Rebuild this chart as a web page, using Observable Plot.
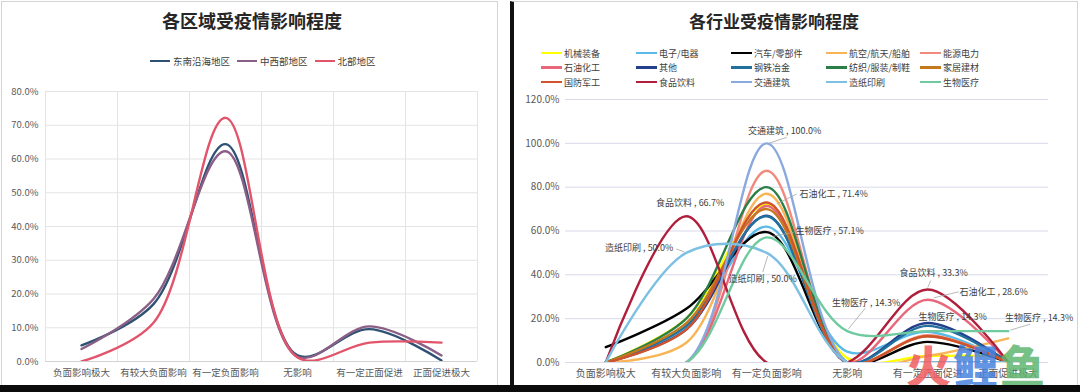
<!DOCTYPE html>
<html>
<head>
<meta charset="utf-8">
<script src="https://cdn.jsdelivr.net/npm/d3@7"></script>
<script src="https://cdn.jsdelivr.net/npm/@observablehq/plot@0.6"></script>
<style>
html,body{margin:0;padding:0;background:#fff;}
#root{position:relative;width:1080px;height:392px;overflow:hidden;background:#fff;font-family:"Noto Sans CJK SC","Noto Sans",sans-serif;}
.abs{position:absolute;}
#leftBox{left:1px;top:1px;width:497px;height:385px;border:1px solid #d4d4d4;box-sizing:border-box;}
#rightBox{left:510px;top:1px;width:568px;height:385px;border:1px solid #d4d4d4;border-left:4px solid #111;box-sizing:border-box;}
.title{font-weight:bold;color:#262626;text-align:center;white-space:nowrap;}
.leg{display:flex;align-items:center;white-space:nowrap;color:#404040;}
.sw{display:inline-block;height:2.6px;}
#band{left:0;top:385px;width:1080px;height:7px;background:#0b0b0b;}
#wm{left:906px;top:342px;font-size:45px;font-weight:900;letter-spacing:2px;line-height:1;}
</style>
</head>
<body>
<div id="root">
  <div id="leftBox" class="abs"></div>
  <div id="rightBox" class="abs"></div>
  <div class="abs title" style="left:0;width:504px;top:7px;font-size:18px;">各区域受疫情影响程度</div>
  <div class="abs title" style="left:514px;width:520px;top:8px;font-size:17px;">各行业受疫情影响程度</div>
  <div id="leftLegend" class="abs" style="left:150px;top:54px;"></div>
  <div id="rightLegend" class="abs" style="left:0;top:0;"></div>
  <div id="leftChart" class="abs" style="left:0;top:80px;"></div>
  <div id="rightChart" class="abs" style="left:514px;top:90px;"></div>
  <div id="wm" class="abs"><span style="color:rgba(240,92,96,0.85)">火</span><span style="color:rgba(72,130,222,0.85)">鲤</span><span style="color:rgba(96,182,112,0.85)">鱼</span></div>
  <div id="band" class="abs"></div>
</div>
<script>
// ---------- data ----------
const categories = ["负面影响极大","有较大负面影响","有一定负面影响","无影响","有一定正面促进","正面促进极大"];

const regionNames  = ["东南沿海地区","中西部地区","北部地区"];
const regionColors = ["#2f5274","#8a5f86","#e2546b"];
const southeast = [4.8, 17.0, 64.4, 1.8, 9.6, 0.3];
const central   = [3.7, 18.5, 62.3, 1.4, 10.4, 1.8];
const north     = [0.0, 11.5, 72.2, 1.2, 5.6, 5.6];
const leftTicks = [0, 10, 20, 30, 40, 50, 60, 70, 80];

const industries = ["机械装备","电子/电器","汽车/零部件","航空/航天/船舶","能源电力",
                    "石油化工","其他","钢铁冶金","纺织/服装/制鞋","家居建材",
                    "国防军工","食品饮料","交通建筑","造纸印刷","生物医疗"];
const industryColors = ["#ffff00","#5bbbe8","#000000","#f8b556","#f28a7c",
                        "#e8677a","#243f8c","#22709e","#2a7f48","#c47a1c",
                        "#d1532e","#b01e3c","#8aa9de","#7cc0e2","#6fcb9f"];
const machinery   = [0, 20, 72, 2, 3, 3];
const electronics = [0, 16, 62, 5, 14, 0];
const automotive  = [7, 24.5, 59.5, 0, 9.4, 0];
const aerospace   = [0, 9, 77, 0, 3, 11];
const energy      = [0, 0, 87.5, 0, 12.5, 0];
const petrochem   = [0, 0, 71.4, 0, 28.6, 0];
const others      = [0, 15, 67, 0, 18, 0];
const steel       = [0, 16.7, 66.7, 0, 16.7, 0];
const textile     = [0, 20, 80, 0, 0, 0];
const homeBuild   = [0, 18, 70, 0, 12, 0];
const defense     = [0, 15, 73, 0, 12, 0];
const food        = [0, 66.7, 0, 0, 33.3, 0];
const transport   = [0, 0, 100, 0, 0, 0];
const paper       = [0, 50, 50, 0, 0, 0];
const biomed      = [0, 0, 57.1, 14.3, 14.3, 14.3];
const rightTicks = [0, 20, 40, 60, 80, 100, 120];

// data labels: which series / category is labelled
const labelSeries = ["交通建筑","石油化工","生物医疗","食品饮料","造纸印刷","造纸印刷","食品饮料","石油化工","生物医疗","生物医疗","生物医疗"];
const labelCats   = [2, 2, 2, 1, 1, 2, 4, 4, 3, 4, 5];

// ---------- layout (pixel offsets of labels and leader lines from their point) ----------
const labelOffsetPx = [[18,-12],[67,-12],[63,-6],[4,-13],[-47,-5],[-4,26],[6,-16],[66,-8],[19,-28],[25,-14],[31,-13]];
const leaderPx = [[2,0,20,-6],[10,-2,30,-12],[6,-1,27,-5],null,[-10,-4,-2,-1],[1,3,-4,19],[3,-9,0,-2],[6,-2,31,-8],[1,-2,18,-23],null,[2,-1,22,-7]];

// ---------- left chart ----------
const regionSeries = [southeast, central, north];
const leftRows = regionNames.flatMap((s, k) => regionSeries[k].map((v, i) => ({s, i, v})));
const idx = categories.map((_, i) => i);
const bounds = d3.range(-0.5, categories.length, 1);
const fontStack = '"Noto Sans CJK SC", "Noto Sans", sans-serif';

const L = {width: 497, height: 305, ml: 45, mr: 20, mt: 11, mb: 24};
const leftPlot = Plot.plot({
  width: L.width, height: L.height,
  marginLeft: L.ml, marginRight: L.mr, marginTop: L.mt, marginBottom: L.mb,
  style: {fontFamily: fontStack, fontSize: "9.5px", color: "#595959", background: "transparent"},
  x: {domain: [-0.5, categories.length - 0.5], ticks: idx, tickFormat: i => categories[i], tickSize: 0, tickPadding: 8, label: null},
  y: {domain: [0, 80], ticks: leftTicks, tickFormat: d => d.toFixed(1) + "%", tickSize: 0, tickPadding: 7, label: null},
  color: {domain: regionNames, range: regionColors},
  marks: [
    Plot.ruleY(leftTicks, {stroke: "#e4e4e4", strokeWidth: 1}),
    Plot.ruleX(bounds, {stroke: "#e4e4e4", strokeWidth: 1}),
    Plot.ruleY([0], {stroke: "#d2d2d2", strokeWidth: 1}),
    Plot.line(leftRows, {x: "i", y: "v", z: "s", stroke: "s", strokeWidth: 2.4, curve: "catmull-rom", clip: true})
  ]
});
document.getElementById("leftChart").appendChild(leftPlot);

// ---------- right chart ----------
const industrySeries = [machinery, electronics, automotive, aerospace, energy, petrochem, others, steel, textile, homeBuild, defense, food, transport, paper, biomed];
const rightRows = industries.flatMap((s, k) => industrySeries[k].map((v, i) => ({s, i, v})));

const R = {width: 563, height: 295, ml: 51, mr: 29, mt: 9, mb: 23};
const catPx = (R.width - R.ml - R.mr) / categories.length;
const pctPx = (R.height - R.mt - R.mb) / 120;
const valueOf = (name, c) => industrySeries[industries.indexOf(name)][c];

const labelRows = labelSeries.map((s, k) => {
  const c = labelCats[k], v = valueOf(s, c);
  return {x: c + labelOffsetPx[k][0] / catPx, y: v - labelOffsetPx[k][1] / pctPx, t: `${s} , ${v.toFixed(1)}%`};
});
const leaderRows = labelSeries.map((s, k) => {
  const p = leaderPx[k]; if (!p) return null;
  const c = labelCats[k], v = valueOf(s, c);
  return {x1: c + p[0] / catPx, y1: v - p[1] / pctPx, x2: c + p[2] / catPx, y2: v - p[3] / pctPx};
}).filter(d => d);

const rightPlot = Plot.plot({
  width: R.width, height: R.height,
  marginLeft: R.ml, marginRight: R.mr, marginTop: R.mt, marginBottom: R.mb,
  style: {fontFamily: fontStack, fontSize: "10px", color: "#595959", background: "transparent", overflow: "visible"},
  x: {domain: [-0.5, categories.length - 0.5], ticks: idx, tickFormat: i => categories[i], tickSize: 0, tickPadding: 7, label: null},
  y: {domain: [0, 120], ticks: rightTicks, tickFormat: d => d.toFixed(1) + "%", tickSize: 0, tickPadding: 6, label: null},
  color: {domain: industries, range: industryColors},
  marks: [
    Plot.ruleY(rightTicks, {stroke: "#d9d9ea", strokeWidth: 1}),
    Plot.line(rightRows, {x: "i", y: "v", z: "s", stroke: "s", strokeWidth: 2.4, curve: "catmull-rom", clip: true}),
    Plot.link(leaderRows, {x1: "x1", y1: "y1", x2: "x2", y2: "y2", stroke: "#a6a6a6", strokeWidth: 0.8}),
    Plot.text(labelRows, {x: "x", y: "y", text: "t", fontSize: 9, fill: "#404040"})
  ]
});
document.getElementById("rightChart").appendChild(rightPlot);

// ---------- legends ----------
const ll = document.getElementById("leftLegend");
ll.style.display = "flex";
regionNames.forEach((n, k) => {
  const it = document.createElement("div");
  it.className = "leg";
  it.style.fontSize = "9.5px";
  it.style.marginRight = "7px";
  it.innerHTML = `<span class="sw" style="width:20px;background:${regionColors[k]};margin-right:3px"></span><span>${n}</span>`;
  ll.appendChild(it);
});
const rl = document.getElementById("rightLegend");
const colX = [541, 636, 731, 826, 920];
const rowY = [53, 67.5, 82];
industries.forEach((n, k) => {
  const it = document.createElement("div");
  it.className = "leg abs";
  it.style.fontSize = "9px";
  it.style.left = colX[k % 5] + "px";
  it.style.top = (rowY[Math.floor(k / 5)] - 6.5) + "px";
  it.style.height = "13px";
  it.innerHTML = `<span class="sw" style="width:21px;background:${industryColors[k]};margin-right:2px"></span><span>${n}</span>`;
  rl.appendChild(it);
});
</script>
</body>
</html>
